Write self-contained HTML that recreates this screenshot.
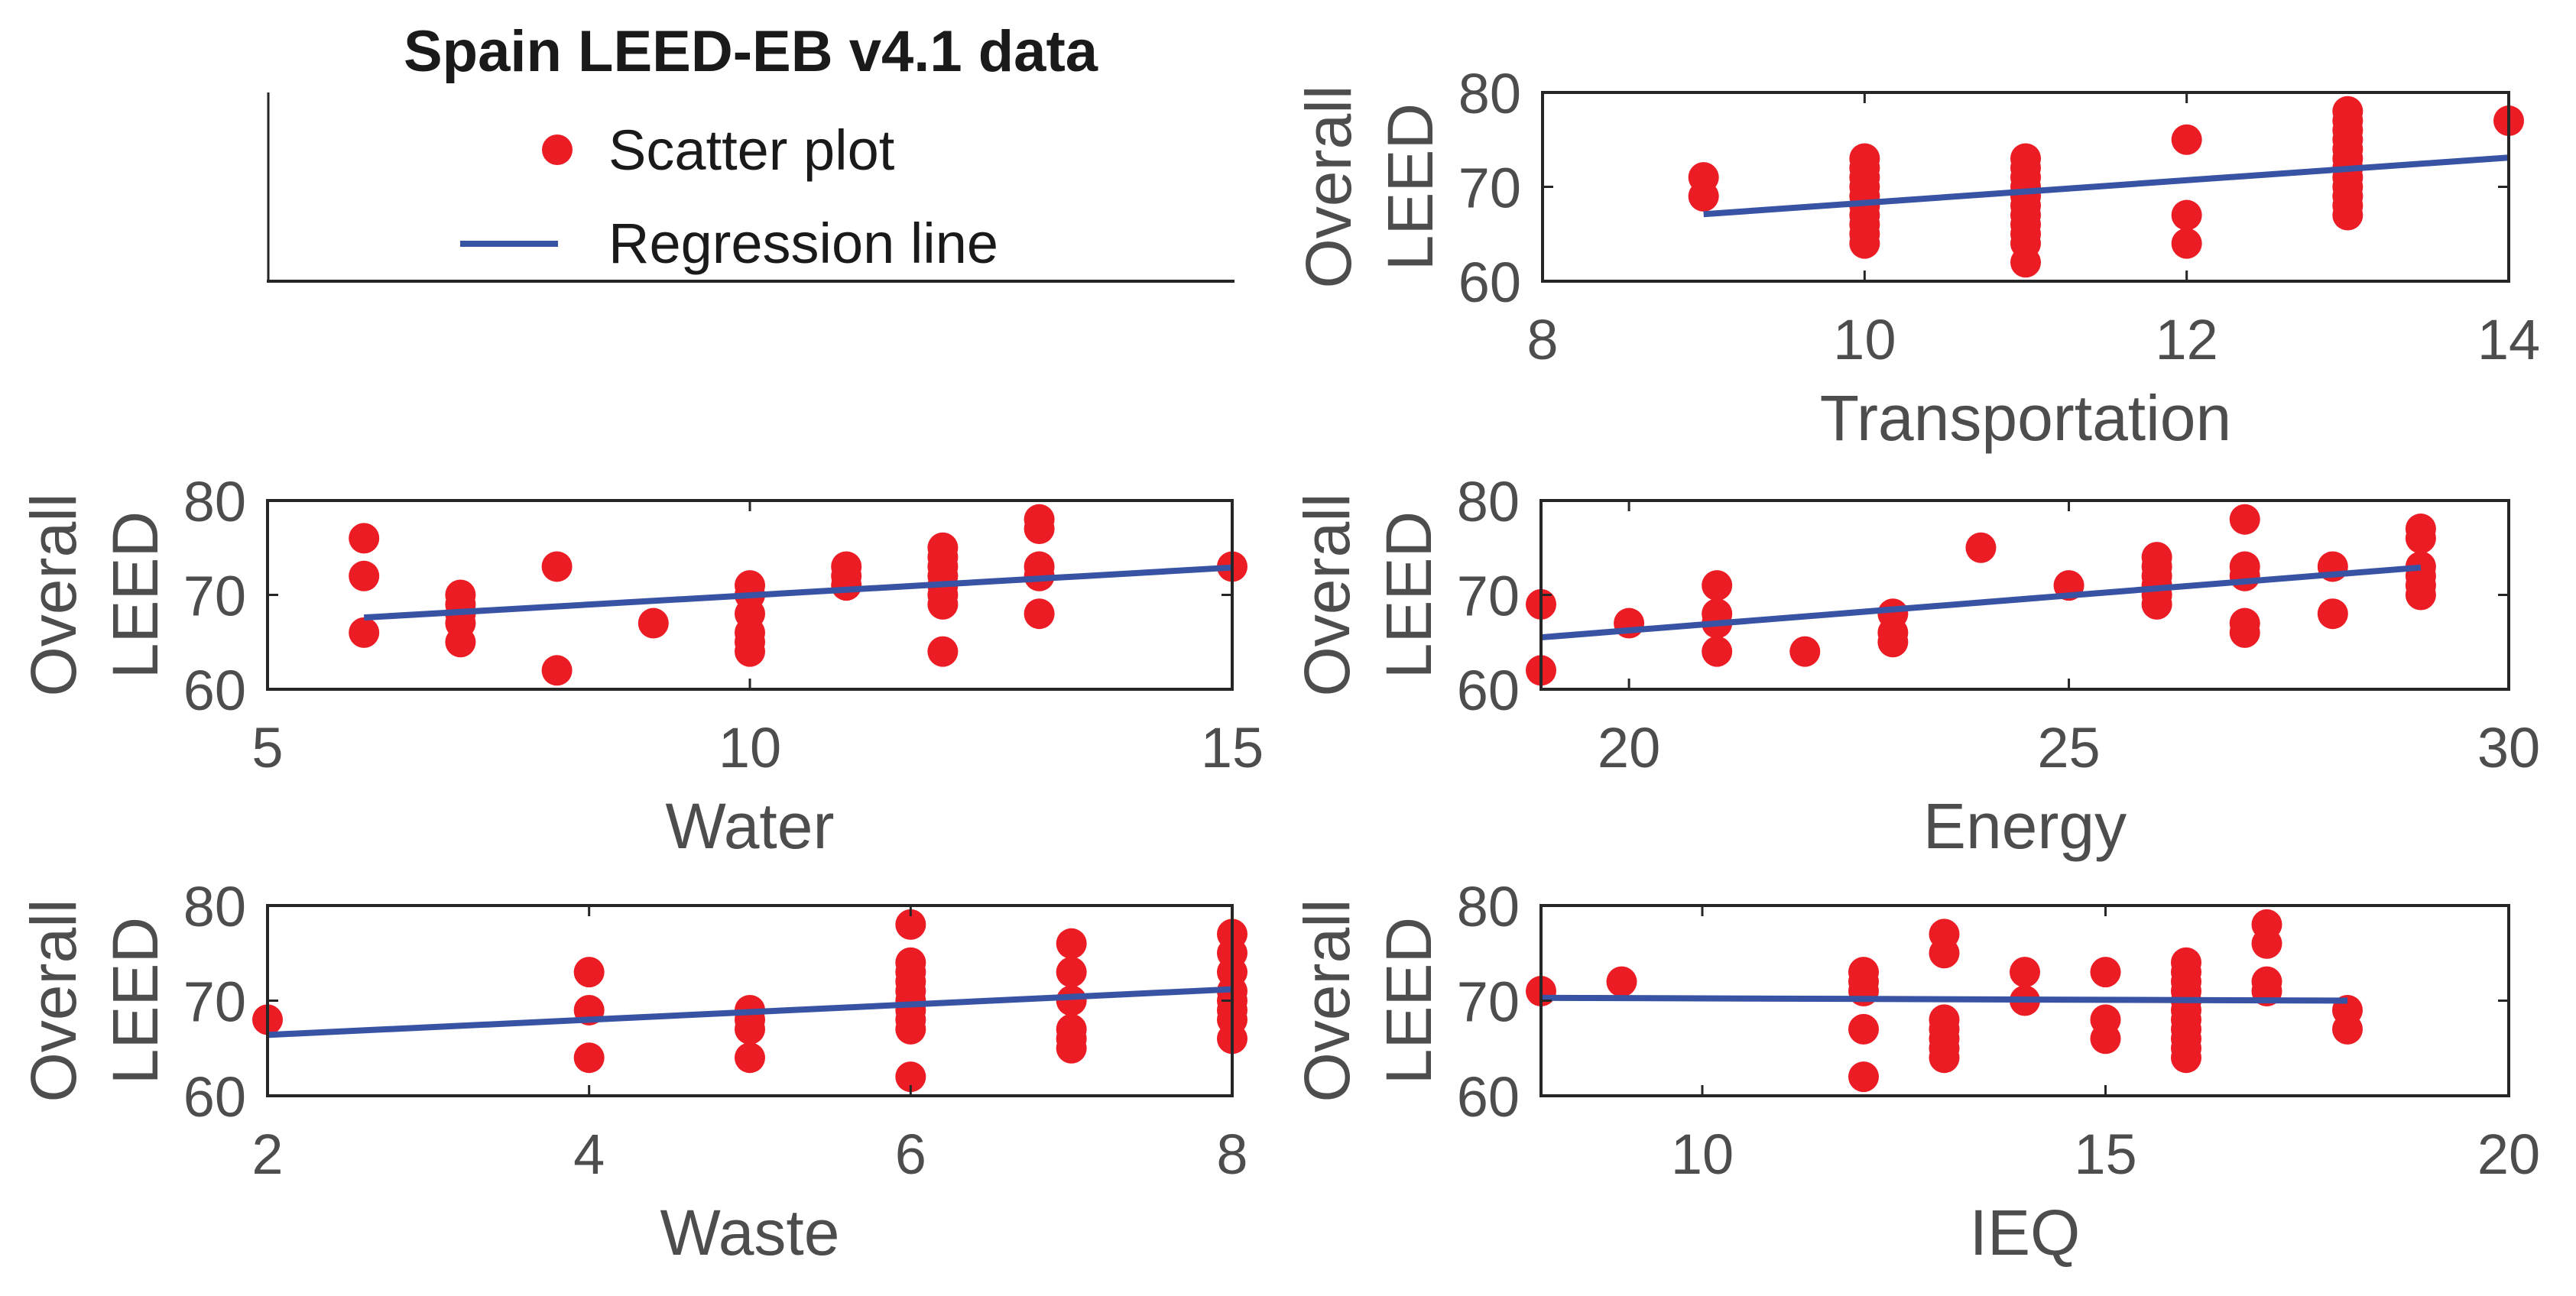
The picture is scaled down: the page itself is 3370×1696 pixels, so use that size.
<!DOCTYPE html>
<html><head><meta charset="utf-8"><style>
html,body{margin:0;padding:0;background:#fff;}
svg{display:block;}
text{font-family:"Liberation Sans",Arial,sans-serif;}
</style></head><body>
<svg id="fig" width="3370" height="1696" viewBox="0 0 3370 1696" xmlns="http://www.w3.org/2000/svg">
<rect width="3370" height="1696" fill="#fff"/>
<g>
<text x="982" y="93" text-anchor="middle" font-size="76" font-weight="bold" fill="#1a1a1a">Spain LEED-EB v4.1 data</text>
<line x1="351" y1="121" x2="351" y2="369" stroke="#262626" stroke-width="3"/>
<line x1="349" y1="368" x2="1615" y2="368" stroke="#262626" stroke-width="4"/>
<circle cx="729" cy="196" r="20" fill="#ec1c24"/>
<text x="796" y="222" font-size="74" fill="#1a1a1a">Scatter plot</text>
<line x1="602" y1="319" x2="730" y2="319" stroke="#3953a4" stroke-width="8"/>
<text x="796" y="344" font-size="74" fill="#1a1a1a">Regression line</text>
</g>
</svg>
<script>
// Transportation
const transX = [9,9,10,10,10,10,10,10,10,10,10,10,11,11,11,11,11,11,11,11,11,11,11,12,12,12,13,13,13,13,13,13,13,13,13,13,13,13,14];
const transY = [71,69,73,72,71,70,69,68,67,66,65,64,73,72,71,70,69,68,67,66,65,64,62,75,67,64,78,77,76,75,74,73,72,71,70,69,68,67,77];
const transReg = [[9,67.1],[14,73.1]];
const transTicks = [8,10,12,14];
// Water
const waterX = [6,6,6,7,7,7,7,7,8,8,9,10,10,10,10,10,10,11,11,11,12,12,12,12,12,12,12,12,13,13,13,13,13,15];
const waterY = [76,72,66,70,69,68,67,65,73,62,67,71,70,68,66,65,64,73,72,71,75,74,73,72,71,70,69,64,78,77,73,72,68,73];
const waterReg = [[6,67.6],[15,72.9]];
const waterTicks = [5,10,15];
// Energy
const energyX = [19,19,20,21,21,21,21,22,23,23,23,24,25,26,26,26,26,26,26,27,27,27,27,27,28,28,29,29,29,29,29,29];
const energyY = [69,62,67,71,68,67,64,64,68,66,65,75,71,74,73,72,71,70,69,78,73,72,67,66,73,68,77,76,73,72,71,70];
const energyReg = [[19,65.5],[29,72.9]];
const energyTicks = [20,25,30];
// Waste
const wasteX = [2,4,4,4,5,5,5,5,6,6,6,6,6,6,6,6,6,6,7,7,7,7,7,7,8,8,8,8,8,8,8,8];
const wasteY = [68,73,69,64,69,68,67,64,78,74,73,72,71,70,69,68,67,62,76,73,70,67,66,65,77,75,73,71,70,69,68,66];
const wasteReg = [[2,66.4],[8,71.2]];
const wasteTicks = [2,4,6,8];
// IEQ
const ieqX = [8,9,12,12,12,12,12,13,13,13,13,13,13,13,14,14,15,15,15,16,16,16,16,16,16,16,16,16,16,16,17,17,17,17,18,18];
const ieqY = [71,72,73,72,71,67,62,77,75,68,67,66,65,64,73,70,73,68,66,74,73,72,71,70,69,68,67,66,65,64,78,76,72,71,69,67];
const ieqReg = [[8,70.3],[18,70.0]];
const ieqTicks = [10,15,20];
const yTicks = [60,70,80];

const NS = 'http://www.w3.org/2000/svg';
const fig = document.getElementById('fig');
function mk(tag, attrs, parent){
  const e = document.createElementNS(NS, tag);
  for (const k in attrs) e.setAttribute(k, attrs[k]);
  parent.appendChild(e);
  return e;
}
function panel(key, label, L, R, T, B, xmin, xmax, xs, ys, reg, xt){
  const g = mk('g', {}, fig);
  
  
  const sx = v => L + (v - xmin) / (xmax - xmin) * (R - L);
  const sy = v => B - (v - 60) / 20 * (B - T);
  // points
  for (let i = 0; i < xs.length; i++) {
    const c = mk('circle', {cx: sx(xs[i]), cy: sy(ys[i]), r: 20, fill: '#ec1c24'}, g);
    
    
  }
  const rl = mk('line', {x1: sx(reg[0][0]), y1: sy(reg[0][1]), x2: sx(reg[1][0]), y2: sy(reg[1][1]), stroke: '#3953a4', 'stroke-width': 8}, g);
  
  
  // box
  const box = mk('rect', {x: L, y: T, width: R - L, height: B - T, fill: 'none', stroke: '#262626', 'stroke-width': 4}, g);
  
  
  // x ticks
  for (const t of xt) {
    const x = sx(t);
    mk('line', {x1: x, y1: B, x2: x, y2: B - 14, stroke: '#262626', 'stroke-width': 3}, g);
    mk('line', {x1: x, y1: T, x2: x, y2: T + 14, stroke: '#262626', 'stroke-width': 3}, g);
    const tl = mk('text', {x: x, y: B + 102, 'text-anchor': 'middle', 'font-size': 74, fill: '#4d4d4d'}, g);
    tl.textContent = t;
    
    
  }
  for (const t of yTicks) {
    const y = sy(t);
    mk('line', {x1: L, y1: y, x2: L + 14, y2: y, stroke: '#262626', 'stroke-width': 3}, g);
    mk('line', {x1: R, y1: y, x2: R - 14, y2: y, stroke: '#262626', 'stroke-width': 3}, g);
    const tl = mk('text', {x: L - 28, y: y + 27, 'text-anchor': 'end', 'font-size': 74, fill: '#4d4d4d'}, g);
    tl.textContent = t;
    
    
  }
  const xl = mk('text', {x: (L + R) / 2, y: B + 208, 'text-anchor': 'middle', 'font-size': 84, fill: '#4d4d4d'}, g);
  xl.textContent = label;
  
  
  const cy = (T + B) / 2;
  const y1 = mk('text', {x: 0, y: 0, transform: 'translate(' + (L - 281 + 30) + ',' + cy + ') rotate(-90)', 'text-anchor': 'middle', 'font-size': 84, fill: '#4d4d4d'}, g);
  y1.textContent = 'Overall';
  
  
  const y2 = mk('text', {x: 0, y: 0, transform: 'translate(' + (L - 174 + 30) + ',' + cy + ') rotate(-90)', 'text-anchor': 'middle', 'font-size': 84, fill: '#4d4d4d'}, g);
  y2.textContent = 'LEED';
  
  
}
panel('transportation', 'Transportation', 2018, 3282, 121, 368, 8, 14, transX, transY, transReg, transTicks);
panel('water', 'Water', 350, 1612, 655, 902, 5, 15, waterX, waterY, waterReg, waterTicks);
panel('energy', 'Energy', 2016, 3282, 655, 902, 19, 30, energyX, energyY, energyReg, energyTicks);
panel('waste', 'Waste', 350, 1612, 1185, 1434, 2, 8, wasteX, wasteY, wasteReg, wasteTicks);
panel('ieq', 'IEQ', 2016, 3282, 1185, 1434, 8, 20, ieqX, ieqY, ieqReg, ieqTicks);
</script>
</body></html>
